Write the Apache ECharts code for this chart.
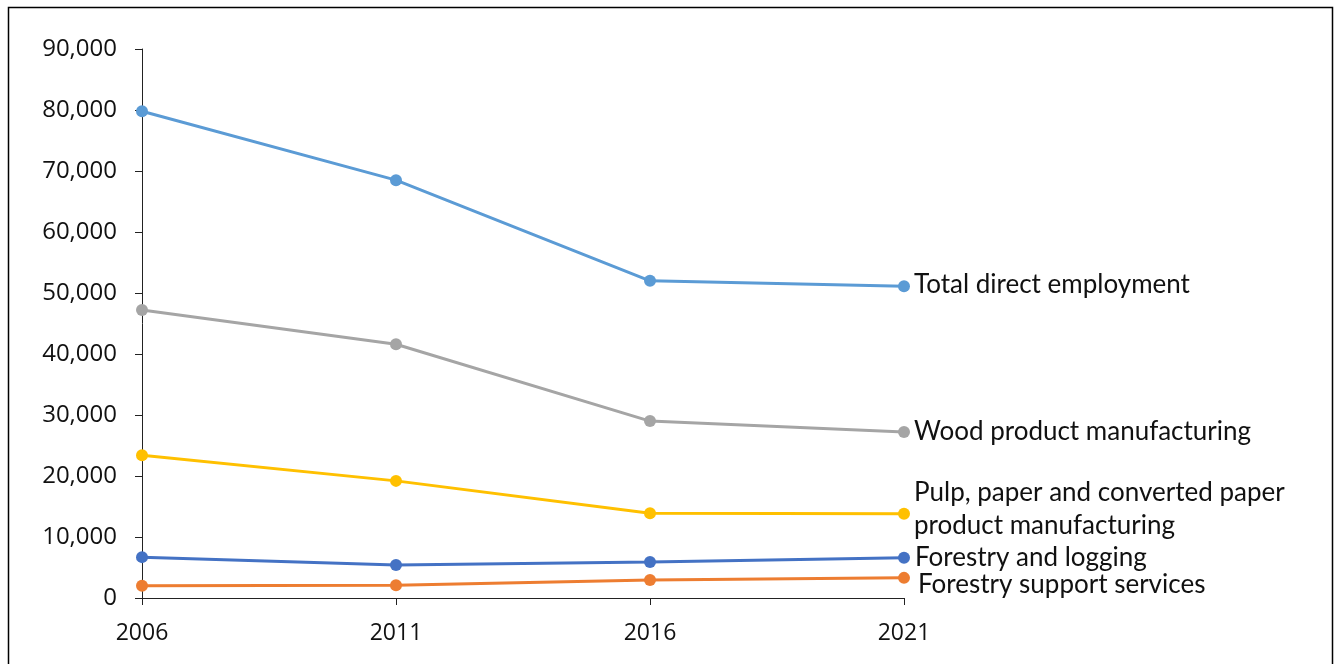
<!DOCTYPE html>
<html>
<head>
<meta charset="utf-8">
<script src="https://cdn.jsdelivr.net/npm/echarts@6/dist/echarts.min.js"></script>
<style>
  html, body { margin: 0; padding: 0; background: #fff; }
  #main { width: 1337px; height: 664px; }
</style>
</head>
<body>
<div id="main"></div>
<script>
// years on the x axis
let years = ["2006", "2011", "2016", "2021"]
// direct employment by industry
let totalDirect = [79800, 68500, 52000, 51100]
let woodProduct = [47200, 41600, 29000, 27200]
let pulpPaper = [23400, 19200, 13900, 13800]
let forestryLogging = [6700, 5400, 5900, 6600]
let supportServices = [2000, 2100, 2950, 3300]

let seriesNames = [
  "Total direct employment",
  "Wood product manufacturing",
  "Pulp, paper and converted paper\nproduct manufacturing",
  "Forestry and logging",
  "Forestry support services"
]
let seriesData = [totalDirect, woodProduct, pulpPaper, forestryLogging, supportServices]
let colors = ["#5B9BD5", "#A5A5A5", "#FFC000", "#4472C4", "#ED7D31"]
let labelOffsets = [[0, -2], [0, 0], [0, -5], [1, 0], [4, 7]]

let myChart = echarts.init(document.getElementById('main'))

let series = seriesData.map((d, i) => ({
  name: seriesNames[i],
  type: 'line',
  data: d,
  symbol: 'circle',
  symbolSize: 12,
  lineStyle: { width: 3, color: colors[i] },
  itemStyle: { color: colors[i] },
  z: 10 - i,
  endLabel: {
    show: true,
    formatter: seriesNames[i],
    distance: 10,
    offset: labelOffsets[i],
    color: '#111',
    fontFamily: 'Lato',
    fontSize: 26,
    lineHeight: 33
  }
}))

let option = {
  animation: false,
  textStyle: { fontFamily: 'Open Sans' },
  graphic: [{
    type: 'rect',
    shape: { x: 8.5, y: 7.5, width: 1324, height: 680 },
    style: { fill: 'none', stroke: '#000', lineWidth: 1.5 },
    silent: true
  }],
  grid: { left: 142, right: 433, top: 49, bottom: 66 },
  xAxis: {
    type: 'category',
    data: years,
    boundaryGap: false,
    axisLine: { lineStyle: { color: '#222', width: 1 } },
    axisTick: { show: true, length: 7, lineStyle: { color: '#222' } },
    axisLabel: { color: '#111', fontSize: 23, margin: 24 },
    splitLine: { show: false }
  },
  yAxis: {
    type: 'value',
    min: 0,
    max: 90000,
    interval: 10000,
    axisLine: { show: true, lineStyle: { color: '#222', width: 1 } },
    axisTick: { show: true, length: 7, lineStyle: { color: '#222' } },
    axisLabel: {
      color: '#111',
      fontSize: 24,
      margin: 25,
      formatter: v => v.toLocaleString('en-US')
    },
    splitLine: { show: false }
  },
  series: series
}

myChart.setOption(option)
</script>
</body>
</html>
